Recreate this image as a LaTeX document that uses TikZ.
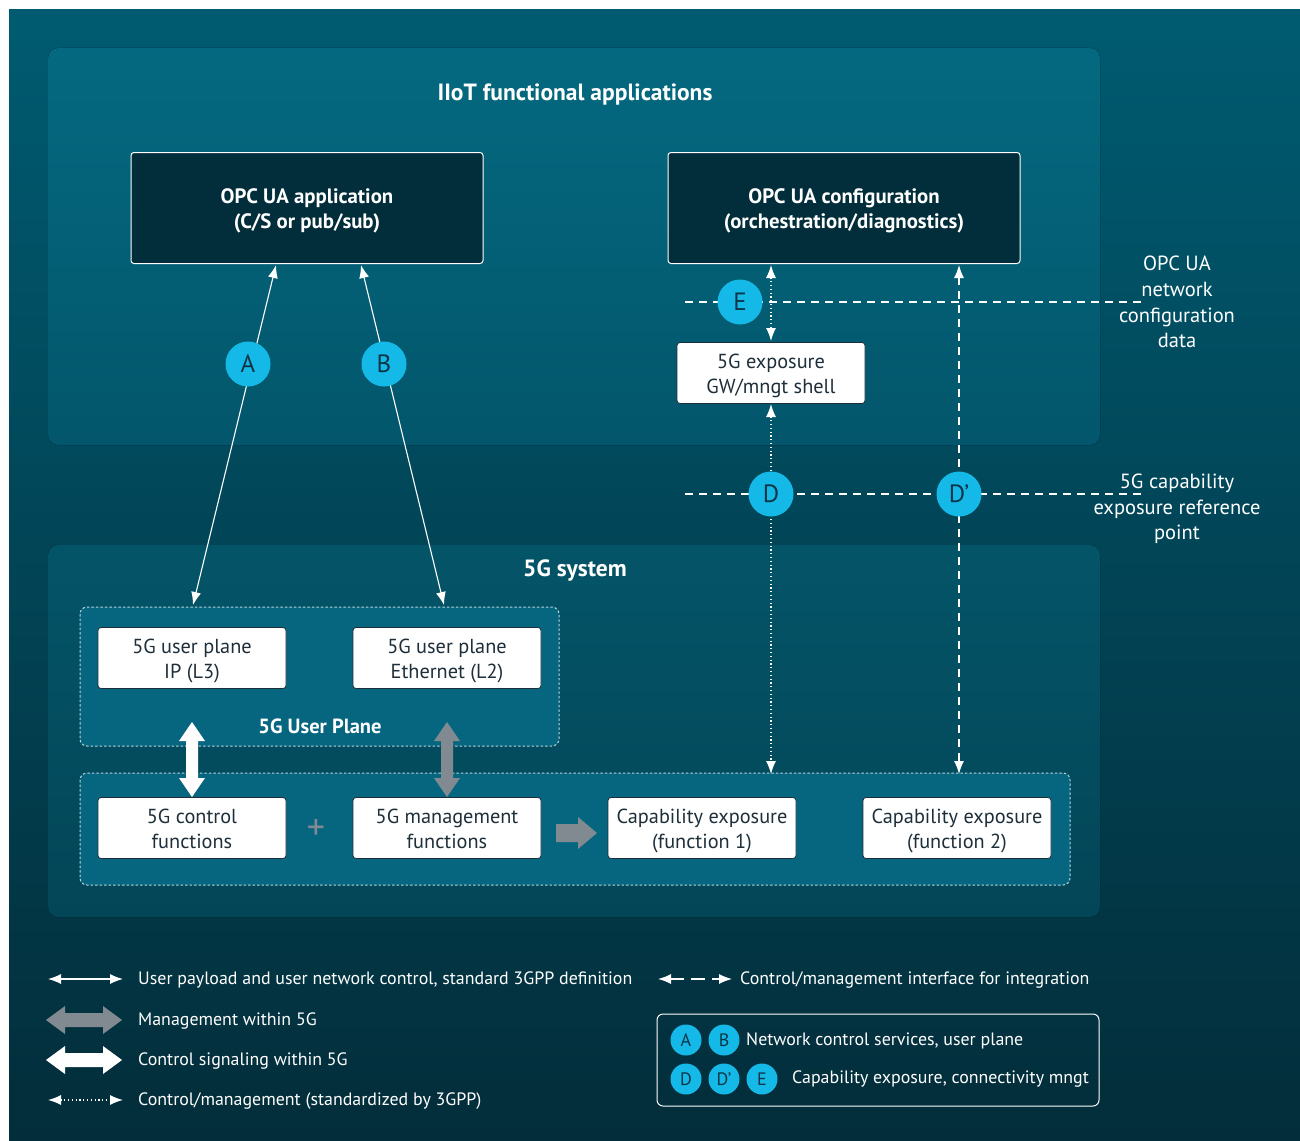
\documentclass[tikz,border=0pt]{standalone}
\usepackage{fontspec}
\setmainfont{PT Sans}
\usetikzlibrary{arrows.meta}
\definecolor{bgtop}{RGB}{0,91,113}
\definecolor{bgbot}{RGB}{3,45,58}
\definecolor{uptop}{RGB}{4,105,128}
\definecolor{upbot}{RGB}{3,86,107}
\definecolor{lotop}{RGB}{4,84,104}
\definecolor{lobot}{RGB}{3,70,87}
\definecolor{inner}{RGB}{7,102,127}
\definecolor{darkbox}{RGB}{2,45,58}
\definecolor{cyanb}{RGB}{21,185,232}
\definecolor{badgetxt}{RGB}{12,52,70}
\definecolor{boxtxt}{RGB}{30,47,58}
\definecolor{grayarrow}{RGB}{128,138,144}
\definecolor{dashbord}{RGB}{181,211,219}
\newcommand\fsbox{\fontsize{20.3}{25}\selectfont}
\newcommand\fsside{\fontsize{20.5}{25.7}\selectfont}
\newcommand\fsleg{\fontsize{17.9}{21}\selectfont}
\newcommand\lowtext[1]{\raisebox{-3pt}[\height][\depth]{\begin{tabular}{@{}c@{}}#1\end{tabular}}}
\newcommand\vblockarrow[4]{%
  \fill[#4] (#1,#2) -- (#1+13,#2+19) -- (#1+6,#2+19) -- (#1+6,#3-19) -- (#1+13,#3-19) -- (#1,#3) -- (#1-13,#3-19) -- (#1-6,#3-19) -- (#1-6,#2+19) -- (#1-13,#2+19) -- cycle;}
\newcommand\hblockarrow[4]{%
  \fill[#4] (#1,#3) -- (#1+19,#3-14) -- (#1+19,#3-7) -- (#2-19,#3-7) -- (#2-19,#3-14) -- (#2,#3) -- (#2-19,#3+14) -- (#2-19,#3+7) -- (#1+19,#3+7) -- (#1+19,#3+14) -- cycle;}
\tikzset{
  wbox/.style={draw=boxtxt, line width=0.8, fill=white, rounded corners=3, minimum width=188, minimum height=61, text=boxtxt, font=\fsbox, inner sep=2},
  dbox/.style={draw=white, line width=1, fill=darkbox, rounded corners=3, minimum width=352, minimum height=111, text=white, font=\fontsize{20.8}{25}\selectfont\bfseries},
  badge/.style={circle, fill=cyanb, minimum size=45, inner sep=0, text=badgetxt, font=\fontsize{25}{25}\selectfont},
  sbadge/.style={circle, fill=cyanb, minimum size=31, inner sep=0, text=badgetxt, font=\fontsize{18}{18}\selectfont},
  title/.style={text=white, font=\fontsize{23.5}{25}\selectfont\bfseries},
  sidelbl/.style={text=white, align=center, font=\fsside},
  legtxt/.style={text=white, anchor=west, font=\fsleg, inner sep=0},
  thinarr/.style={white, line width=1.1, {Latex[length=13,width=10]}-{Latex[length=13,width=10]}},
  dotarr/.style={white, line width=1.3, dash pattern=on 1.2 off 2.6, {Latex[length=13,width=10]}-{Latex[length=13,width=10]}},
  dasharr/.style={white, line width=1.3, dash pattern=on 8 off 6, {Latex[length=13,width=10]}-{Latex[length=13,width=10]}},
  refline/.style={white, line width=1.6, dash pattern=on 8 off 6},
  dashbox/.style={draw=dashbord, line width=1, dash pattern=on 2.5 off 2, fill=inner, rounded corners=7},
}
\begin{document}
\begin{tikzpicture}[x=1pt,y=-1pt]
\useasboundingbox (0,0) rectangle (1300,1140);
% background
\fill[white] (0,0) rectangle (1300,1140);
\fill[top color=bgtop, bottom color=bgbot] (9,10) rectangle (1300,1140);
% panels
\fill[rounded corners=10, top color=uptop, bottom color=upbot] (48,48) rectangle (1100,445);
\fill[rounded corners=10, top color=lotop, bottom color=lobot] (48,545) rectangle (1100,917);
\draw[dashbox] (80,607) rectangle (559,746);
\draw[dashbox] (80,773) rectangle (1070,885);

% titles
\node[title] (t1) at (575,94) {IIoT functional applications};
\node[title] (t2) at (575,571) {5G system};
\node[title, font=\fontsize{20.5}{25}\selectfont\bfseries] (t3) at (320,726) {5G User Plane};

% boxes
\node[dbox] (app) at (307,208) {\lowtext{OPC UA application\\(C/S or pub/sub)}};
\node[dbox] (cfg) at (844,208) {\lowtext{OPC UA configuration\\(orchestration/diagnostics)}};
\node[wbox] (gw) at (771,373) {\lowtext{5G exposure\\GW/mngt shell}};
\node[wbox] (up3) at (192,658) {\lowtext{5G user plane\\IP (L3)}};
\node[wbox] (up2) at (447,658) {\lowtext{5G user plane\\Ethernet (L2)}};
\node[wbox] (ctl) at (192,828) {\lowtext{5G control\\functions}};
\node[wbox] (mgt) at (447,828) {\lowtext{5G management\\functions}};
\node[wbox] (ce1) at (702,828) {\lowtext{Capability exposure\\(function 1)}};
\node[wbox] (ce2) at (957,828) {\lowtext{Capability exposure\\(function 2)}};

% reference lines
\coordinate (r1a) at (685,302); \coordinate (r1b) at (1141,302);
\coordinate (r2a) at (685,494); \coordinate (r2b) at (1141,494);
\draw[refline] (r1a) -- (r1b);
\draw[refline] (r2a) -- (r2b);

% connectors
\coordinate (a1) at (276,265); \coordinate (a2) at (193,605);
\coordinate (b1) at (361,265); \coordinate (b2) at (444,605);
\draw[thinarr] (a1) -- (a2);
\draw[thinarr] (b1) -- (b2);
\coordinate (e1) at (771,265); \coordinate (e2) at (771,341);
\draw[dotarr] (e1) -- (e2);
\coordinate (d1) at (771,404); \coordinate (d2) at (771,774);
\draw[dotarr] (d1) -- (d2);
\coordinate (p1) at (959,265); \coordinate (p2) at (959,774);
\draw[dasharr] (p1) -- (p2);

% badges
\node[badge] (bA) at (248,364) {A};
\node[badge] (bB) at (384,364) {B};
\node[badge] (bE) at (740,302) {E};
\node[badge] (bD) at (771,494) {D};
\node[badge] (bDp) at (959,494) {D’};

% side labels
\node[sidelbl] (l1) at (1177,302) {OPC UA\\network\\configuration\\data};
\node[sidelbl] (l2) at (1177,509) {5G capability\\exposure reference\\point};

% block arrows
\vblockarrow{192}{722}{797}{white}
\vblockarrow{447}{722}{797}{grayarrow}
\fill[grayarrow] (556,824) -- (578,824) -- (578,817) -- (597,833) -- (578,849) -- (578,842) -- (556,842) -- cycle;
\node[text=grayarrow, font=\fontsize{36}{36}\selectfont] (plus) at (316,829) {+};

% legend
\coordinate (g1a) at (48,979); \coordinate (g1b) at (123,979);
\draw[thinarr] (g1a) -- (g1b);
\node[legtxt] (lg1) at (138,980) {User payload and user network control, standard 3GPP definition};
\hblockarrow{46}{122}{1020}{grayarrow}
\node[legtxt] (lg2) at (138,1021) {Management within 5G};
\hblockarrow{46}{122}{1060}{white}
\node[legtxt] (lg3) at (138,1061) {Control signaling within 5G};
\coordinate (g4a) at (48,1100); \coordinate (g4b) at (123,1100);
\draw[dotarr] (g4a) -- (g4b);
\node[legtxt] (lg4) at (138,1101) {Control/management (standardized by 3GPP)};
\coordinate (g5a) at (658,979); \coordinate (g5b) at (732,979);
\draw[dasharr, dash pattern=on 14 off 7] (g5a) -- (g5b);
\node[legtxt] (lg5) at (740,980) {Control/management interface for integration};

\draw[white, line width=1, rounded corners=6] (657,1014) rectangle (1099,1106);
\node[sbadge] (sA) at (686,1040) {A};
\node[sbadge] (sB) at (724,1040) {B};
\node[sbadge] (sD) at (686,1079) {D};
\node[sbadge] (sDp) at (724,1079) {D’};
\node[sbadge] (sE) at (762,1079) {E};
\node[legtxt] (lg6) at (746,1041) {Network control services, user plane};
\node[legtxt] (lg7) at (792,1079) {Capability exposure, connectivity mngt};
\end{tikzpicture}
\end{document}
